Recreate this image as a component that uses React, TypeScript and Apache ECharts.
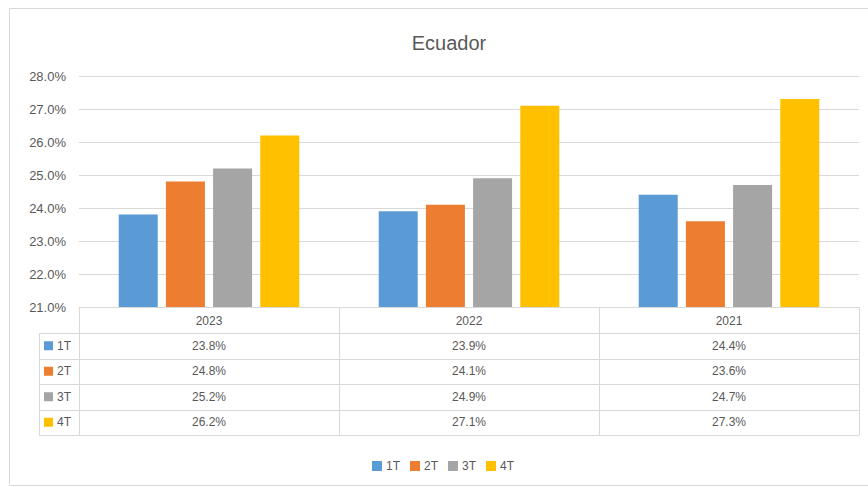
import React, { useEffect, useRef } from "react";
import * as echarts from "echarts";

const categories = ["2023", "2022", "2021"];
const seriesNames = ["1T", "2T", "3T", "4T"];
const q1 = [23.8, 23.9, 24.4];
const q2 = [24.8, 24.1, 23.6];
const q3 = [25.2, 24.9, 24.7];
const q4 = [26.2, 27.1, 27.3];
const seriesValues = [q1, q2, q3, q4];
const colors = ["#5B9BD5", "#ED7D31", "#A5A5A5", "#FFC000"];
const yMin = 21;
const yMax = 28;
const yInterval = 1;

const FONT = "'Liberation Sans', Arial, sans-serif";
const TEXT = "#595959";
const LINE = "#d9d9d9";

export default function App() {
  const ref = useRef<HTMLDivElement>(null);
  useEffect(() => {
    if (!ref.current) return;
    const chart = echarts.init(ref.current, null, { renderer: "svg" });
    chart.setOption({
      animation: false,
      backgroundColor: "#ffffff",
      textStyle: { fontFamily: FONT },
      title: {
        text: "Ecuador",
        left: 444,
        textAlign: "center",
        top: 28,
        textStyle: { fontFamily: FONT, fontSize: 20, fontWeight: "normal", color: TEXT },
      },
      legend: {
        data: seriesNames,
        left: 367,
        top: 455,
        icon: "rect",
        itemWidth: 10,
        itemHeight: 10,
        itemGap: 10,
        textStyle: { fontFamily: FONT, fontSize: 12, color: TEXT, padding: [0, 0, 0, -1] },
      },
      grid: { left: 79, right: 9, top: 76, bottom: 180, containLabel: false },
      xAxis: {
        type: "category",
        data: categories,
        axisLine: { show: true, lineStyle: { color: LINE } },
        axisTick: { show: false },
        axisLabel: { color: TEXT, fontSize: 12, fontFamily: FONT, margin: 8 },
      },
      yAxis: {
        type: "value",
        min: yMin,
        max: yMax,
        interval: yInterval,
        axisLine: { show: false },
        axisTick: { show: false },
        splitLine: { lineStyle: { color: LINE } },
        axisLabel: {
          color: TEXT,
          fontSize: 13,
          fontFamily: FONT,
          margin: 13,
          formatter: (v: number) => v.toFixed(1) + "%",
        },
      },
      series: seriesNames.map((name, i) => ({
        name,
        type: "bar",
        data: seriesValues[i],
        barWidth: 39,
        barGap: "21%",
        itemStyle: { color: colors[i] },
      })),
    });

    // Data table built from the axis scales
    const c0 = chart.convertToPixel({ xAxisIndex: 0 }, 0) as number;
    const c1 = chart.convertToPixel({ xAxisIndex: 0 }, 1) as number;
    const band = c1 - c0;
    const left = c0 - band / 2;
    const right = left + band * categories.length;
    const y0 = chart.convertToPixel({ yAxisIndex: 0 }, yMin) as number;
    const headerH = 26;
    const rowH = 25.5;
    const labelLeft = 39;
    const tableTop = y0 + headerH;
    const tableBottom = tableTop + rowH * seriesNames.length;
    const els: any[] = [];
    const ln = (x1: number, y1: number, x2: number, y2: number) => ({
      type: "line",
      silent: true,
      shape: { x1, y1, x2, y2 },
      style: { stroke: LINE, lineWidth: 1 },
    });
    // outer chart border
    els.push({
      type: "rect",
      silent: true,
      shape: { x: 9.5, y: 8.5, width: 862, height: 477 },
      style: { fill: "none", stroke: LINE, lineWidth: 1 },
      z: -1,
    });
    for (let k = 0; k <= categories.length; k++) {
      const x = Math.round(left + band * k) + 0.5;
      els.push(ln(x, y0, x, tableBottom));
    }
    els.push(ln(labelLeft + 0.5, tableTop, labelLeft + 0.5, tableBottom));
    for (let r = 0; r <= seriesNames.length; r++) {
      const y = Math.round(tableTop + rowH * r) + 0.5;
      els.push(ln(labelLeft, y, right, y));
    }
    seriesNames.forEach((name, r) => {
      const cy = tableTop + rowH * r + rowH / 2;
      els.push({
        type: "rect",
        silent: true,
        shape: { x: labelLeft + 5, y: cy - 4.5, width: 9, height: 9 },
        style: { fill: colors[r] },
      });
      els.push({
        type: "text",
        silent: true,
        x: labelLeft + 18,
        y: cy,
        style: {
          text: name,
          fill: TEXT,
          font: `12px ${FONT}`,
          textVerticalAlign: "middle",
          verticalAlign: "middle",
        },
      });
      seriesValues[r].forEach((v, c) => {
        els.push({
          type: "text",
          silent: true,
          x: left + band * c + band / 2,
          y: cy,
          style: {
            text: v.toFixed(1) + "%",
            fill: TEXT,
            font: `12px ${FONT}`,
            align: "center",
            textAlign: "center",
            verticalAlign: "middle",
            textVerticalAlign: "middle",
          },
        });
      });
    });
    chart.setOption({ graphic: els });

    return () => chart.dispose();
  }, []);
  return (
    <div
      ref={ref}
      style={{ position: "fixed", left: 0, top: 0, width: 868, height: 487 }}
    />
  );
}
